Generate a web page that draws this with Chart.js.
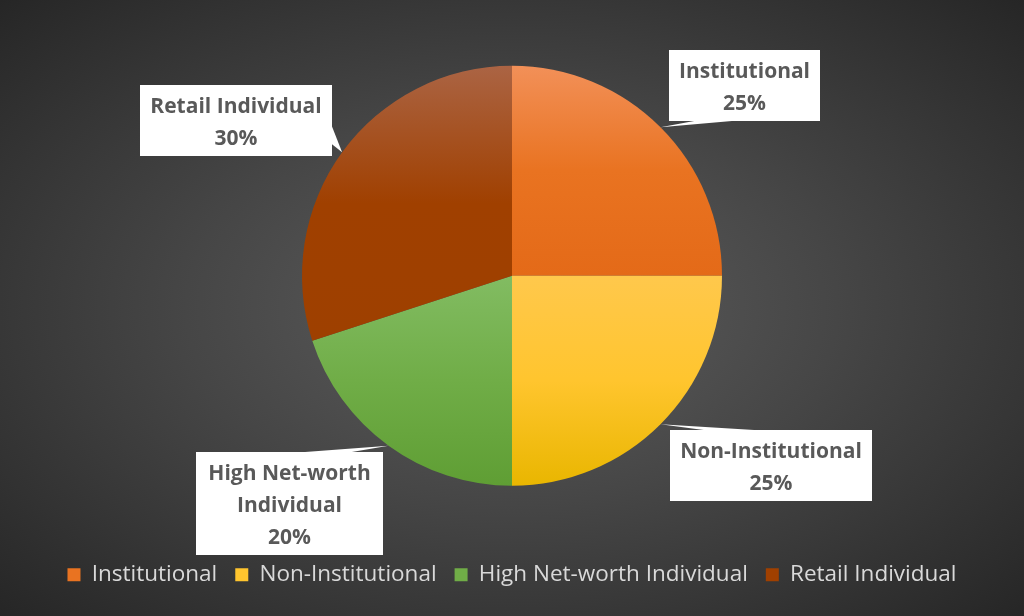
<!DOCTYPE html>
<html>
<head>
<meta charset="utf-8">
<script src="https://cdn.jsdelivr.net/npm/chart.js@4"></script>
<style>
  html, body { margin: 0; padding: 0; }
  body {
    width: 1024px; height: 616px; overflow: hidden;
    background: radial-gradient(ellipse at 50% 50%, #5e5e5e 0%, #464646 45%, #262626 100%);
  }
  #wrap { position: relative; width: 1024px; height: 616px; }
</style>
</head>
<body>
<div id="wrap"><canvas id="chart" width="1024" height="616"></canvas></div>
<script>
// Chart data
const categories = ['Institutional', 'Non-Institutional', 'High Net-worth Individual', 'Retail Individual'];
const shares = [25, 25, 20, 30];

// Slice colours: light (top of slice), base, dark (bottom of slice)
const baseColors = ['#E97321', '#FFC52E', '#70AD47', '#A04000'];
const lightColors = ['#F29058', '#FFC84C', '#82BC62', '#AB6444'];
const darkColors = ['#E46A18', '#E9B600', '#5F9E34', '#9E4000'];

// Label callout boxes [left, top, width, height]
const labelBoxes = [
  [669, 50, 151, 71],
  [670, 430, 202, 71],
  [196, 452, 187, 103],
  [140, 85, 192, 71]
];

const FONT = '"Open Sans", "DejaVu Sans", sans-serif';
const PIE_RADIUS = 210;

// Per-slice vertical gradient, sized to the slice's own bounding box
function sliceGradient(context) {
  const chart = context.chart;
  const area = chart.chartArea;
  const i = context.dataIndex;
  if (!area || i === undefined) return baseColors[i] || '#888';
  const cx = (area.left + area.right) / 2;
  const cy = (area.top + area.bottom) / 2;
  const total = shares.reduce((a, b) => a + b, 0);
  let before = 0;
  for (let k = 0; k < i; k++) before += shares[k];
  const a0 = -Math.PI / 2 + before / total * Math.PI * 2;
  const a1 = a0 + shares[i] / total * Math.PI * 2;
  const ys = [cy, cy + Math.sin(a0) * PIE_RADIUS, cy + Math.sin(a1) * PIE_RADIUS];
  for (const extreme of [-Math.PI / 2, Math.PI / 2, Math.PI * 1.5]) {
    if (extreme > a0 && extreme < a1) ys.push(cy + Math.sin(extreme) * PIE_RADIUS);
  }
  const top = Math.min(...ys);
  const bottom = Math.max(...ys);
  const g = chart.ctx.createLinearGradient(0, top, 0, bottom);
  g.addColorStop(0, lightColors[i]);
  g.addColorStop(0.5, baseColors[i]);
  g.addColorStop(1, darkColors[i]);
  return g;
}

function wrapText(ctx, text, maxWidth) {
  const words = text.split(' ');
  const lines = [];
  let line = '';
  for (const w of words) {
    const test = line ? line + ' ' + w : w;
    if (ctx.measureText(test).width > maxWidth && line) {
      lines.push(line);
      line = w;
    } else {
      line = test;
    }
  }
  if (line) lines.push(line);
  return lines;
}

// Draws white callout boxes with a wedge tail pointing at each slice
const calloutPlugin = {
  id: 'callouts',
  afterDatasetsDraw(chart) {
    const ctx = chart.ctx;
    const meta = chart.getDatasetMeta(0);
    const total = shares.reduce((a, b) => a + b, 0);
    ctx.save();
    ctx.font = 'bold 21px ' + FONT;
    meta.data.forEach((arc, i) => {
      const [l, t, w, h] = labelBoxes[i];
      const mid = (arc.startAngle + arc.endAngle) / 2;
      const tipX = arc.x + Math.cos(mid) * arc.outerRadius;
      const tipY = arc.y + Math.sin(mid) * arc.outerRadius;
      const bx = l + w / 2, by = t + h / 2;
      const dx = (tipX - bx) / w, dy = (tipY - by) / h;

      ctx.fillStyle = '#FFFFFF';
      ctx.beginPath();
      ctx.rect(l, t, w, h);
      ctx.fill();

      // tail base on the edge facing the tip
      let p1, p2;
      if (Math.abs(dx) > Math.abs(dy)) {
        const ex = dx > 0 ? l + w : l;
        const y1 = dy > 0 ? t + h * 7 / 12 : t + h * 2 / 12;
        const y2 = dy > 0 ? t + h * 10 / 12 : t + h * 5 / 12;
        p1 = [ex, y1]; p2 = [ex, y2];
      } else {
        const ey = dy > 0 ? t + h : t;
        const x1 = dx > 0 ? l + w * 7 / 12 : l + w * 2 / 12;
        const x2 = dx > 0 ? l + w * 10 / 12 : l + w * 5 / 12;
        p1 = [x1, ey]; p2 = [x2, ey];
      }
      ctx.beginPath();
      ctx.moveTo(p1[0], p1[1]);
      ctx.lineTo(tipX, tipY);
      ctx.lineTo(p2[0], p2[1]);
      ctx.closePath();
      ctx.fill();

      const pct = Math.round(shares[i] / total * 100) + '%';
      const lines = wrapText(ctx, categories[i], w - 6).concat([pct]);
      const lineH = 32;
      ctx.fillStyle = '#595959';
      ctx.textAlign = 'center';
      ctx.textBaseline = 'middle';
      const startY = by - (lines.length - 1) * lineH / 2 + 3;
      lines.forEach((ln, k) => ctx.fillText(ln, bx, startY + k * lineH));
    });
    ctx.restore();
  }
};

new Chart(document.getElementById('chart'), {
  type: 'pie',
  data: {
    labels: categories,
    datasets: [{
      data: shares,
      backgroundColor: sliceGradient,
      borderWidth: 0
    }]
  },
  options: {
    responsive: false,
    animation: false,
    radius: PIE_RADIUS,
    layout: { padding: { top: 6, bottom: 20, left: 0, right: 0 } },
    plugins: {
      tooltip: { enabled: false },
      legend: {
        position: 'bottom',
        labels: {
          color: '#D9D9D9',
          font: { family: FONT, size: 22.5 },
          boxWidth: 13,
          boxHeight: 13,
          padding: 18,
          generateLabels(chart) {
            return categories.map((c, i) => ({
              text: c,
              fillStyle: baseColors[i],
              strokeStyle: baseColors[i],
              lineWidth: 0,
              fontColor: '#D9D9D9',
              hidden: false,
              index: i
            }));
          }
        }
      }
    }
  },
  plugins: [calloutPlugin]
});
</script>
</body>
</html>
